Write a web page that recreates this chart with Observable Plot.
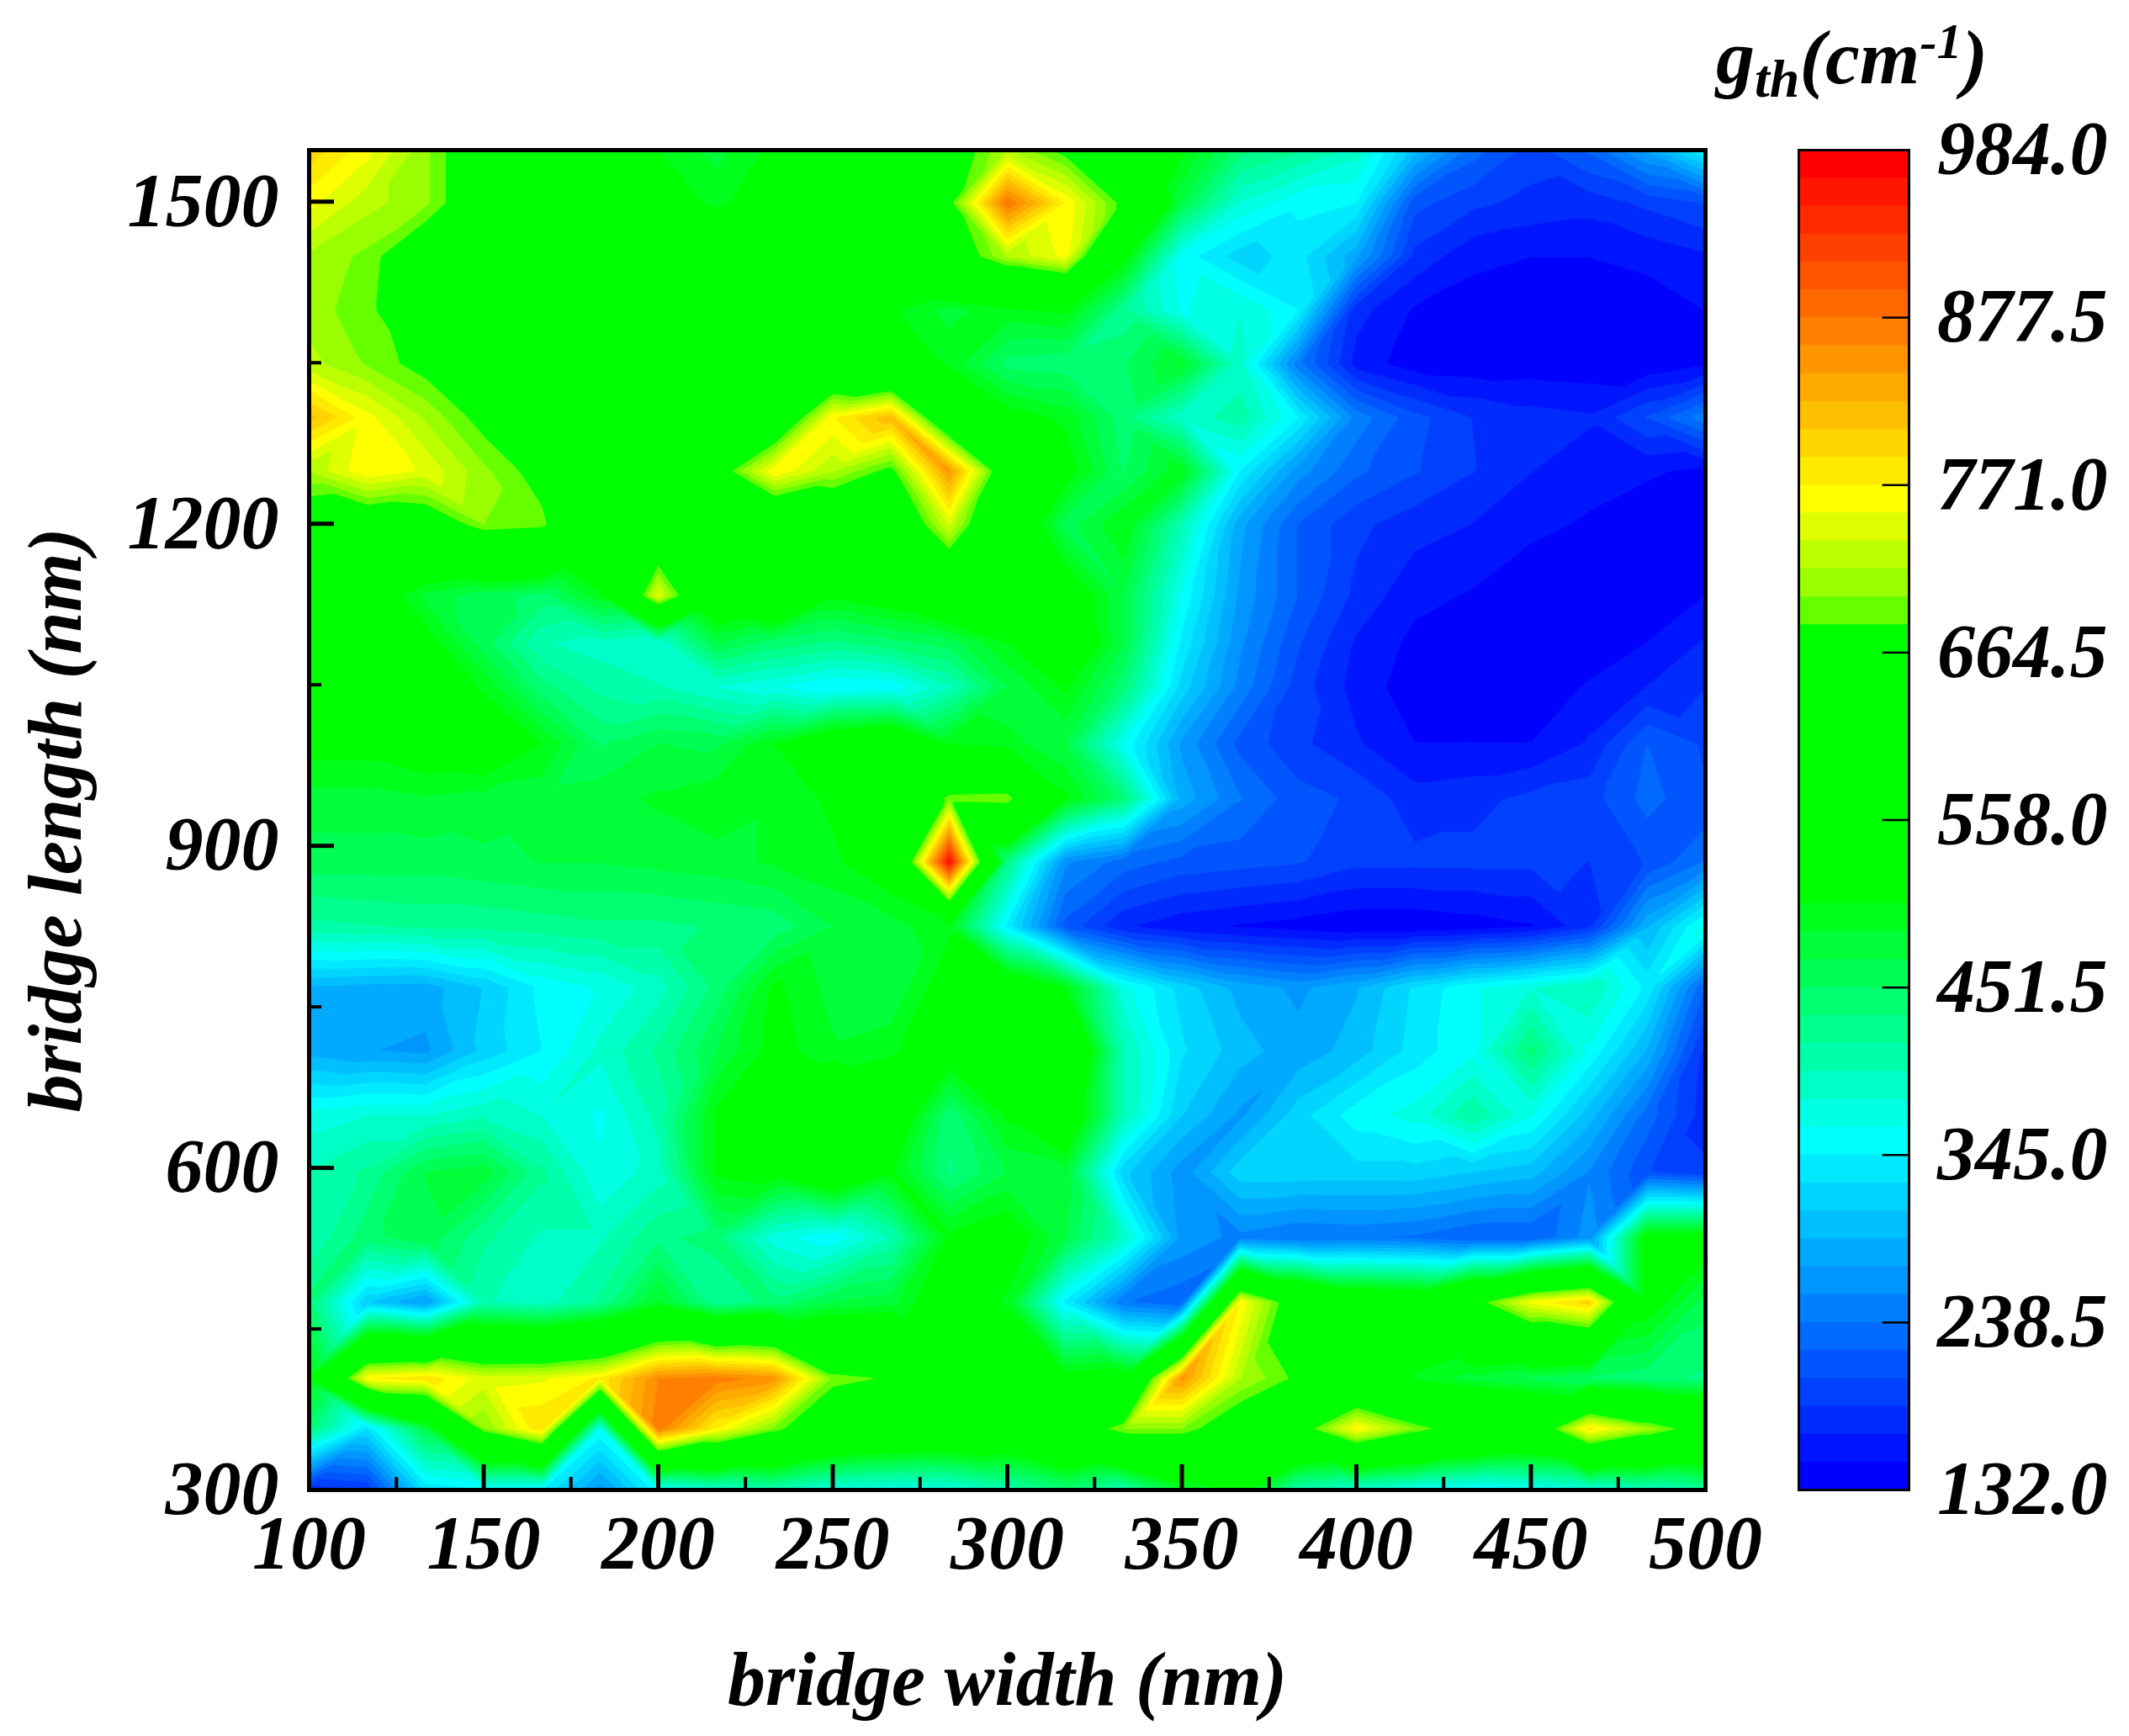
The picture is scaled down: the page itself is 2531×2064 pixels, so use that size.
<!DOCTYPE html>
<html><head><meta charset="utf-8">
<script src="https://cdn.jsdelivr.net/npm/d3@7"></script>
<script src="https://cdn.jsdelivr.net/npm/@observablehq/plot@0.6"></script>
<style>
html,body{margin:0;padding:0;background:#fff;overflow:hidden}
#stage{position:relative;width:2531px;height:2064px}
#stage svg{position:absolute;top:0;left:0;overflow:visible}
#cbar svg{left:2040px}
#gt{position:absolute;left:2040px;top:22px;font:italic bold 92px "Liberation Serif";white-space:nowrap;line-height:1}
#gt sub{font-size:64px;vertical-align:-16px;line-height:0}
#gt sup{font-size:60px;vertical-align:30px;line-height:0}
</style></head><body>
<div id="stage"><div id="main"></div><div id="cbar"></div><div id="gt">g<sub>th</sub>(cm<sup>-1</sup>)</div></div>
<script>
const widths = [100,116.67,133.33,150,166.67,183.33,200,216.67,233.33,250,266.67,283.33,300,316.67,333.33,350,366.67,383.33,400,416.67,433.33,450,466.67,483.33,500];
const lengths = [300,357,404,475,535,596,649,709,768,825,885,944,995,1048,1089,1133,1199,1249,1299,1349,1399,1449,1499,1548];
const g300  = [175,185,330,345,345,265,355,380,400,370,365,370,400,440,400,480,520,400,380,360,345,355,375,390,410];
const g357  = [440,330,470,700,790,360,870,770,695,620,600,590,580,640,700,700,640,650,770,700,645,614,780,715,650];
const g404  = [510,770,785,745,750,775,860,870,850,695,678,600,560,520,530,850,720,675,560,500,480,465,450,440,430];
const g475  = [440,310,270,400,390,420,490,420,440,470,480,540,500,340,240,225,770,640,580,570,660,760,800,525,460];
const g535  = [400,445,465,420,395,395,430,440,370,350,400,510,530,470,390,270,250,237,240,235,220,220,265,530,530];
const g596  = [400,420,470,480,420,365,390,510,520,570,510,430,470,480,315,265,320,320,320,320,310,300,255,205,190];
const g649  = [370,380,380,395,380,360,405,510,560,600,550,440,510,560,400,310,270,320,355,370,415,365,300,230,175];
const g709  = [285,275,270,315,345,385,420,470,515,490,500,530,590,600,400,330,300,280,300,335,360,440,360,290,180];
const g768  = [290,285,283,310,350,365,390,440,510,480,470,525,560,505,370,320,285,270,290,330,360,380,400,340,220];
const g825  = [410,415,420,420,425,430,430,435,440,470,480,500,340,215,170,155,148,142,135,135,140,148,180,290,370];
const g885  = [460,460,460,465,470,470,475,480,490,500,530,970,430,260,230,215,210,205,190,190,190,190,185,205,240];
const g944  = [480,480,485,480,475,480,490,500,490,510,560,695,700,510,440,285,240,210,200,175,180,190,195,228,205];
const g995  = [515,515,530,540,505,450,470,465,505,560,580,505,495,470,360,270,215,190,170,150,150,150,170,221,200];
const g1048 = [600,580,540,500,440,410,400,380,365,345,350,395,470,510,440,320,250,195,160,140,135,137,152,168,185];
const g1089 = [590,570,520,460,400,390,380,470,445,430,445,460,505,560,470,340,260,205,165,145,135,134,138,150,170];
const g1133 = [560,540,480,460,445,500,750,560,600,510,530,570,570,540,470,360,270,220,180,155,148,135,133,140,150];
const g1199 = [640,630,640,700,690,600,590,575,580,600,600,740,570,460,505,400,280,220,190,175,167,155,147,140,140];
const g1249 = [720,770,750,705,668,620,600,650,770,720,670,850,625,520,450,500,345,265,225,205,186,168,158,152,146];
const g1299 = [815,760,715,670,620,600,600,610,600,770,820,590,520,500,440,385,410,345,250,210,185,175,170,205,250];
const g1349 = [725,698,670,620,600,600,600,600,600,570,540,500,445,440,450,490,385,245,160,140,138,140,138,135,148];
const g1399 = [708,690,640,610,600,590,590,590,590,590,508,480,500,510,420,360,380,345,175,148,140,135,135,140,150];
const g1449 = [715,695,640,600,580,580,570,560,570,590,600,640,720,760,520,355,318,335,280,180,155,150,150,155,165];
const g1499 = [760,725,705,640,600,580,520,500,520,570,610,670,880,770,670,470,380,350,345,210,190,180,175,190,205];
const g1548 = [800,760,705,640,620,570,505,480,510,560,600,650,720,670,600,510,440,420,390,300,230,195,225,280,350];
const grid = [g300,g357,g404,g475,g535,g596,g649,g709,g768,g825,g885,g944,g995,g1048,g1089,g1133,g1199,g1249,g1299,g1349,g1399,g1449,g1499,g1548];

const xMajor = [100,150,200,250,300,350,400,450,500];
const xMinor = [125,175,225,275,325,375,425,475];
const yMajor = [300,600,900,1200,1500];
const yMinor = [450,750,1050,1350];
const barLabels = [132,238.5,345,451.5,558,664.5,771,877.5,984];
const barTicks = [238.5,345,451.5,558,664.5,771,877.5];

const points = grid.flatMap((r,j)=>r.map((g,i)=>({w:widths[i],l:lengths[j],g})));
const thresholds = d3.range(48).map(i=>132+17.75*i);
const hex = (r,g,b)=>d3.rgb(r,g,b).formatHex();
const bandColors = thresholds.map((_,i)=>{
  if(i<=12) return hex(0,Math.round(i*21.25),255);
  if(i<=21) return hex(0,255,Math.round(255-(i-12)*255/9));
  if(i<=30) return hex(0,255,0);
  if(i<=35) return hex([102,153,187,221,255][i-31],255,0);
  return hex(255,Math.round(255-(i-35)*21.25),0);
});
const colorScale = {type:"threshold",domain:thresholds.slice(1),range:bandColors};
const font = {fontFamily:"Liberation Serif",fontStyle:"italic",fontWeight:"bold",fontSize:"90px",color:"#000",background:"transparent"};

// Triangulate each grid cell along the diagonal with the smaller value step, so ridges stay connected.
function gridInterpolate(index,w,h,X,Y,V){
  const nc=widths.length,nr=lengths.length;
  const cx=Array.from({length:nc},(_,i)=>X[i]);
  const cy=Array.from({length:nr},(_,j)=>Y[j*nc]);
  const W=new Float64Array(w*h);
  const at=(i,j)=>V[j*nc+i];
  for(let py=0;py<h;py++){
    const sy=py+.5;
    let j=0; while(j<nr-2&&cy[j+1]>sy) j++;
    const v=Math.min(1,Math.max(0,(cy[j]-sy)/(cy[j]-cy[j+1])));
    for(let px=0;px<w;px++){
      const sx=px+.5;
      let i=0; while(i<nc-2&&cx[i+1]<sx) i++;
      const u=Math.min(1,Math.max(0,(sx-cx[i])/(cx[i+1]-cx[i])));
      const a=at(i,j),b=at(i+1,j),c=at(i,j+1),d=at(i+1,j+1);
      let z;
      if(Math.abs(a-d)<=Math.abs(b-c)) z = u>=v ? a+u*(b-a)+v*(d-b) : a+v*(c-a)+u*(d-c);
      else z = u+v<=1 ? a+u*(b-a)+v*(c-a) : d+(1-u)*(c-d)+(1-v)*(b-d);
      W[px+py*w]=z;
    }
  }
  return W;
}

const noLabel = ()=>"";
const main = Plot.plot({
  width:2531,height:2064,marginLeft:367,marginRight:504,marginTop:178,marginBottom:293,
  style:font,
  x:{domain:[100,500]},y:{domain:[300,1548]},color:colorScale,
  marks:[
    Plot.frame({fill:"#0000ff"}),
    Plot.contour(points,{x:"w",y:"l",fill:"g",thresholds,interpolate:gridInterpolate,pixelSize:2,clip:"frame"}),
    Plot.axisX({ticks:xMajor,tickSize:-30,strokeWidth:5,tickFormat:noLabel,label:null}),
    Plot.axisX({ticks:xMinor,tickSize:-15,strokeWidth:4,tickFormat:noLabel,label:null}),
    Plot.axisY({ticks:yMajor,tickSize:-30,strokeWidth:5,tickFormat:noLabel,label:null}),
    Plot.axisY({ticks:yMinor,tickSize:-15,strokeWidth:4,tickFormat:noLabel,label:null}),
    Plot.axisX({ticks:xMajor,tickSize:0,tickPadding:30,tickFormat:String,label:"bridge width (nm)",labelAnchor:"center",labelArrow:"none",labelOffset:255}),
    Plot.axisY({ticks:yMajor,tickSize:0,tickPadding:36,tickFormat:String,label:"bridge length (nm)",labelAnchor:"center",labelArrow:"none",labelOffset:335}),
    Plot.frame({stroke:"#000",strokeWidth:5})
  ]
});
document.getElementById("main").append(main);

const bands = thresholds.map(lo=>({lo}));
const cbar = Plot.plot({
  width:491,height:2064,marginLeft:98,marginRight:262,marginTop:178,marginBottom:293,
  style:font,
  x:{domain:[0,1],axis:null},y:{domain:[132,984],axis:null},color:colorScale,
  marks:[
    Plot.rect(bands,{x1:()=>0,x2:()=>1,y1:"lo",y2:()=>984,fill:"lo"}),
    Plot.ruleY(barTicks,{x1:0.76,x2:1,stroke:"#000",strokeWidth:2.5}),
    Plot.text(barLabels,{x:()=>1,y:d=>d,text:d=>d3.format(".1f")(d),dx:236,textAnchor:"end"}),
    Plot.frame({stroke:"#000",strokeWidth:3})
  ]
});
document.getElementById("cbar").append(cbar);
</script>
</body></html>
